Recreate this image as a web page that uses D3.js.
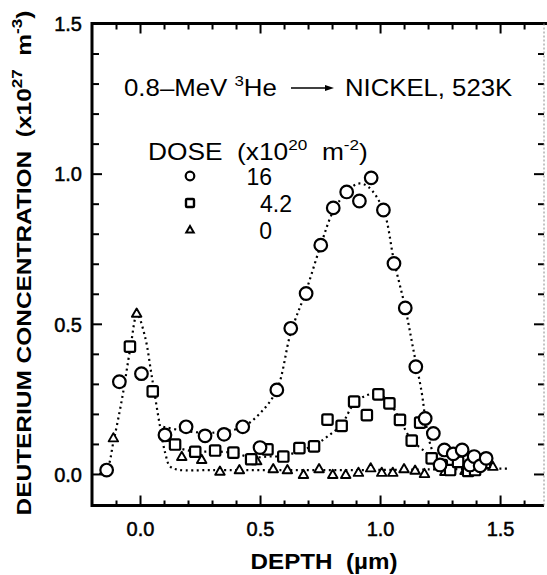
<!DOCTYPE html>
<html><head><meta charset="utf-8">
<script src="https://cdn.jsdelivr.net/npm/d3@7"></script>
<style>body{margin:0;background:#fff}text{font-family:"Liberation Sans",Arial,sans-serif;fill:#000}</style>
</head><body>
<svg id="c" width="547" height="575"></svg>
<script>
// ---------- data (depth µm, concentration x1e27 m^-3) ----------
const dose16 = [[-0.139,0.013],[-0.086,0.307],[0.006,0.334],[0.104,0.130],[0.192,0.157],[0.271,0.127],[0.350,0.132],[0.428,0.157],[0.500,0.088],[0.570,0.280],[0.628,0.485],[0.692,0.601],[0.753,0.762],[0.805,0.886],[0.861,0.939],[0.914,0.909],[0.963,0.986],[1.014,0.879],[1.058,0.701],[1.105,0.553],[1.149,0.357],[1.188,0.185],[1.222,0.135],[1.250,0.030],[1.268,0.080],[1.305,0.067],[1.342,0.080],[1.375,0.030],[1.392,0.058],[1.417,0.027],[1.442,0.052]];
const dose42 = [[-0.042,0.424],[0.053,0.275],[0.146,0.098],[0.230,0.074],[0.313,0.078],[0.389,0.071],[0.463,0.049],[0.531,0.082],[0.597,0.058],[0.664,0.086],[0.725,0.092],[0.781,0.181],[0.840,0.160],[0.892,0.241],[0.945,0.196],[0.993,0.265],[1.039,0.235],[1.083,0.180],[1.132,0.111],[1.167,0.171],[1.215,0.052],[1.257,0.030],[1.292,0.013],[1.325,0.040],[1.367,0.010],[1.396,0.013],[1.437,0.037]];
const dose0 = [[-0.111,0.119],[-0.014,0.534],[0.174,0.057],[0.257,0.047],[0.333,0.008],[0.414,0.013],[0.486,0.043],[0.555,0.016],[0.614,0.013],[0.681,-0.003],[0.746,0.016],[0.803,-0.003],[0.857,-0.003],[0.910,0.004],[0.961,0.019],[1.007,0.004],[1.053,0.004],[1.100,0.016],[1.146,0.011],[1.185,0.000],[1.270,0.007],[1.354,0.010],[1.470,0.024]];
// fitted dotted curves
const fit0 = [[-0.17,0.0],[-0.14,0.012],[-0.11,0.11],[-0.075,0.25],[-0.04,0.42],[-0.012,0.532],[0.02,0.46],[0.05,0.32],[0.083,0.16],[0.105,0.07],[0.125,0.025],[0.16,0.014],[0.3,0.013],[0.6,0.013],[0.9,0.013],[1.2,0.015],[1.53,0.018]];
const fit16 = [[0.097,0.157],[0.167,0.146],[0.271,0.137],[0.346,0.141],[0.429,0.157],[0.5,0.202],[0.57,0.28],[0.628,0.47],[0.692,0.61],[0.753,0.762],[0.805,0.875],[0.861,0.939],[0.91,0.967],[0.951,0.956],[1.014,0.879],[1.058,0.71],[1.105,0.553],[1.139,0.413],[1.174,0.269],[1.1875,0.19],[1.201,0.124],[1.222,0.069],[1.25,0.03],[1.3,0.018]];
const fit42 = [[0.104,0.125],[0.153,0.09],[0.229,0.075],[0.31,0.075],[0.39,0.07],[0.465,0.055],[0.535,0.058],[0.6,0.06],[0.667,0.078],[0.725,0.095],[0.78,0.124],[0.84,0.165],[0.89,0.232],[0.944,0.262],[0.993,0.266],[1.042,0.235],[1.083,0.18],[1.132,0.113],[1.188,0.074],[1.215,0.052],[1.25,0.03],[1.3,0.02]];
const xMajor = [0.0,0.5,1.0,1.5];
const xLabels = ["0.0","0.5","1.0","1.5"];
const xMinor = [-0.1,0.1,0.2,0.3,0.4,0.6,0.7,0.8,0.9,1.1,1.2,1.3,1.4,1.6];
const yMajor = [0.0,0.5,1.0,1.5];
const yLabels = ["0.0","0.5","1.0","1.5"];
const yMinor = [0.1,0.2,0.3,0.4,0.6,0.7,0.8,0.9,1.1,1.2,1.3,1.4];
const legendDose = ["16","4.2","0"];

// ---------- drawing ----------
const svg = d3.select("#c");
const L=92,R=544,T=23.5,B=505.5;
const x = d3.scaleLinear().domain([-0.2,1.683]).range([L,R]);
const y = d3.scaleLinear().domain([-0.105,1.5]).range([B,T]);
const F = '"Liberation Sans",Arial,sans-serif';

function axis(gen, tr, vals, size, fmt){
  const g = svg.append("g").attr("transform",tr)
    .call(gen.tickValues(vals).tickSizeInner(size).tickSizeOuter(0).tickPadding(8).tickFormat(fmt));
  g.select(".domain").remove();
  g.selectAll(".tick line").attr("stroke","#000").attr("stroke-width",2);
  return g;
}
// bottom
const gb = axis(d3.axisBottom(x), `translate(0,${B})`, xMajor, -10, (d,i)=>xLabels[i]);
gb.selectAll(".tick text").attr("font-size",20).attr("font-family",F).attr("y",null).attr("dy",null)
  .attr("stroke","#000").attr("stroke-width",0.5).attr("transform",`translate(0,${536-B})`);
axis(d3.axisBottom(x), `translate(0,${B})`, xMinor, -5, ()=>"");
// top
axis(d3.axisTop(x), `translate(0,${T})`, xMajor, -10, ()=>"");
axis(d3.axisTop(x), `translate(0,${T})`, xMinor, -6, ()=>"");
// left
const gl = axis(d3.axisLeft(y), `translate(${L},0)`, yMajor, -10, (d,i)=>yLabels[i]);
gl.selectAll(".tick text").attr("font-size",20).attr("font-family",F).attr("x",-10).attr("dy","0.36em")
  .attr("stroke","#000").attr("stroke-width",0.5);
axis(d3.axisLeft(y), `translate(${L},0)`, yMinor, -7, ()=>"");
// right
axis(d3.axisRight(y), `translate(${R},0)`, yMajor, -10, ()=>"");
axis(d3.axisRight(y), `translate(${R},0)`, yMinor, -6, ()=>"");

// frame
svg.append("line").attr("x1",L).attr("x2",L).attr("y1",T-1.5).attr("y2",B+1.5).attr("stroke","#000").attr("stroke-width",3);
svg.append("line").attr("x1",L).attr("x2",R).attr("y1",B).attr("y2",B).attr("stroke","#000").attr("stroke-width",3);
svg.append("line").attr("x1",L).attr("x2",547).attr("y1",T).attr("y2",T).attr("stroke","#000").attr("stroke-width",3);
svg.append("line").attr("x1",R).attr("x2",R).attr("y1",T).attr("y2",B).attr("stroke","#888").attr("stroke-width",1).attr("stroke-dasharray","2,2");

// curves
const line = d3.line().x(d=>x(d[0])).y(d=>y(d[1])).curve(d3.curveCatmullRom.alpha(0.5));
[fit0,fit16,fit42].forEach(f=>{
  svg.append("path").attr("d",line(f)).attr("fill","none").attr("stroke","#000")
    .attr("stroke-width",2.2).attr("stroke-dasharray","2,3.5");
});

// markers
function tri(cx,cy,s){const h=s*0.866;return `M${cx},${cy-h*0.62}L${cx+s/2},${cy+h*0.38}L${cx-s/2},${cy+h*0.38}Z`;}
svg.append("g").selectAll("path").data(dose0).join("path")
  .attr("d",d=>tri(x(d[0]),y(d[1]),9.5)).attr("fill","#fff").attr("stroke","#000").attr("stroke-width",1.9).attr("stroke-linejoin","round");
svg.append("g").selectAll("rect").data(dose42).join("rect")
  .attr("x",d=>x(d[0])-5.2).attr("y",d=>y(d[1])-5.2).attr("width",10.4).attr("height",10.4).attr("rx",1.5)
  .attr("fill","#fff").attr("stroke","#000").attr("stroke-width",2.2);
svg.append("g").selectAll("circle").data(dose16).join("circle")
  .attr("cx",d=>x(d[0])).attr("cy",d=>y(d[1])).attr("r",6.3)
  .attr("fill","#fff").attr("stroke","#000").attr("stroke-width",2.2);

// scaled text helper
function fitText(sel, target){
  const w = sel.node().getBBox().width;
  return target / w;
}

// title
const t1 = svg.append("text").attr("font-size",23).attr("x",0).attr("y",0).style("white-space","pre");
t1.append("tspan").text("0.8–MeV ");
t1.append("tspan").attr("font-size",15).attr("dy",-10).text("3");
t1.append("tspan").attr("dy",10).text("He");
t1.attr("transform",`translate(124,96) scale(${fitText(t1,153)},1)`);
svg.append("line").attr("x1",291).attr("x2",327).attr("y1",88).attr("y2",88).attr("stroke","#000").attr("stroke-width",1.6);
svg.append("path").attr("d","M325,85L334,88L325,91Z").attr("fill","#000");
const t2 = svg.append("text").attr("font-size",23).text("NICKEL, 523K");
t2.attr("transform",`translate(345,96) scale(${fitText(t2,168)},1)`);

// legend header
const lh = svg.append("text").attr("font-size",23).style("white-space","pre");
lh.append("tspan").text("DOSE  (x10");
lh.append("tspan").attr("font-size",15).attr("dy",-10).text("20");
lh.append("tspan").attr("dy",10).text("  m");
lh.append("tspan").attr("font-size",15).attr("dy",-10).text("-2");
lh.append("tspan").attr("dy",10).text(")");
lh.attr("transform",`translate(148,160) scale(${fitText(lh,220)},1)`);

// legend entries
const ly = [176,203,230];
svg.append("circle").attr("cx",190).attr("cy",ly[0]).attr("r",4.3).attr("fill","#fff").attr("stroke","#000").attr("stroke-width",2.2);
svg.append("rect").attr("x",186).attr("y",ly[1]-4).attr("width",8).attr("height",8).attr("rx",1).attr("fill","#fff").attr("stroke","#000").attr("stroke-width",2.4);
svg.append("path").attr("d",tri(190,ly[2],7.5)).attr("fill","#fff").attr("stroke","#000").attr("stroke-width",2);
svg.append("text").attr("font-size",23).attr("text-anchor","end").attr("x",272).attr("y",ly[0]+9).text(legendDose[0]);
svg.append("text").attr("font-size",23).attr("x",260).attr("y",ly[1]+9).text(legendDose[1]);
svg.append("text").attr("font-size",23).attr("text-anchor","end").attr("x",272).attr("y",ly[2]+9).text(legendDose[2]);

// x axis title
const xt = svg.append("text").attr("font-size",22).attr("font-weight","bold").style("white-space","pre").attr("text-anchor","middle").text("DEPTH  (µm)");
xt.attr("transform",`translate(324,569) scale(${fitText(xt,147)},1)`);

// y axis title
const yt = svg.append("text").attr("font-size",20).attr("font-weight","bold").style("white-space","pre");
yt.append("tspan").text("DEUTERIUM CONCENTRATION  (x10");
yt.append("tspan").attr("font-size",14).attr("dy",-9).text("27");
yt.append("tspan").attr("dy",9).text("  m");
yt.append("tspan").attr("font-size",14).attr("dy",-9).text("-3");
yt.append("tspan").attr("dy",9).text(")");
const ys = fitText(yt,505);
yt.attr("text-anchor","middle").attr("transform",`translate(31,263) rotate(-90) scale(${ys},1)`);
</script>
</body></html>
